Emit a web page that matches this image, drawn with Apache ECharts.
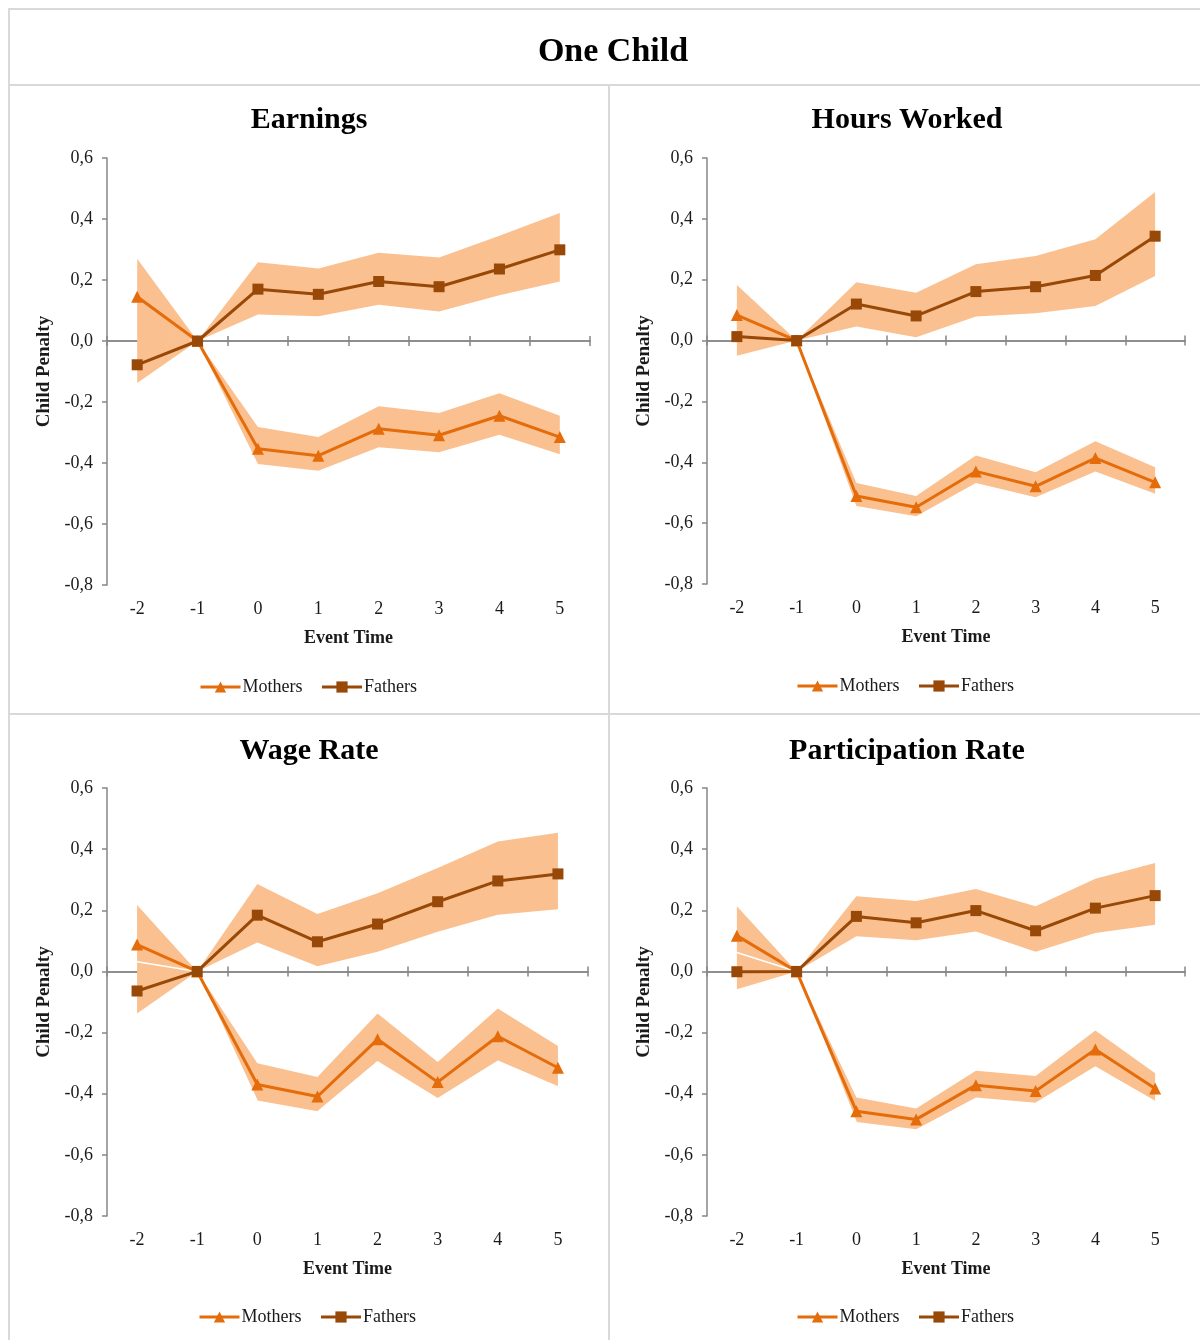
<!DOCTYPE html>
<html>
<head>
<meta charset="utf-8">
<title>One Child</title>
<script src="https://cdn.jsdelivr.net/npm/echarts@6/dist/echarts.min.js"></script>
<style>
  html, body { margin: 0; padding: 0; background: #ffffff; }
  #chart { width: 1200px; height: 1340px; }
</style>
</head>
<body>
<div id="chart"></div>
<script>
// Event time relative to the birth of the first child
const eventTime = ['-2', '-1', '0', '1', '2', '3', '4', '5'];

// Earnings
const earnMothers   = [0.145, 0, -0.353, -0.376, -0.288, -0.309, -0.245, -0.315];
const earnMothersLo = [0.037, 0, -0.403, -0.425, -0.348, -0.365, -0.307, -0.371];
const earnMothersHi = [0.270, 0, -0.282, -0.315, -0.214, -0.236, -0.171, -0.245];
const earnFathers   = [-0.078, 0, 0.170, 0.153, 0.195, 0.178, 0.236, 0.299];
const earnFathersLo = [-0.138, 0, 0.087, 0.081, 0.119, 0.097, 0.150, 0.195];
const earnFathersHi = [0.040, 0, 0.258, 0.238, 0.289, 0.274, 0.345, 0.420];

// Hours worked
const hoursMothers   = [0.084, 0, -0.511, -0.548, -0.430, -0.479, -0.386, -0.466];
const hoursMothersLo = [-0.010, 0, -0.544, -0.577, -0.468, -0.515, -0.430, -0.503];
const hoursMothersHi = [0.183, 0, -0.468, -0.511, -0.378, -0.433, -0.331, -0.416];
const hoursFathers   = [0.013, 0, 0.120, 0.081, 0.161, 0.177, 0.214, 0.343];
const hoursFathersLo = [-0.050, 0, 0.046, 0.011, 0.079, 0.090, 0.114, 0.212];
const hoursFathersHi = [0.070, 0, 0.192, 0.157, 0.251, 0.278, 0.333, 0.488];

// Wage rate
const wageMothers   = [0.088, 0, -0.370, -0.409, -0.222, -0.362, -0.212, -0.315];
const wageMothersLo = [0.032, 0, -0.425, -0.460, -0.296, -0.417, -0.294, -0.378];
const wageMothersHi = [0.217, 0, -0.300, -0.345, -0.138, -0.296, -0.121, -0.244];
const wageFathers   = [-0.064, 0, 0.184, 0.097, 0.155, 0.228, 0.296, 0.319];
const wageFathersLo = [-0.138, 0, 0.095, 0.017, 0.064, 0.130, 0.185, 0.203];
const wageFathersHi = [0.032, 0, 0.286, 0.188, 0.256, 0.338, 0.425, 0.454];

// Participation rate
const partMothers   = [0.117, 0, -0.457, -0.484, -0.372, -0.391, -0.255, -0.383];
const partMothersLo = [0.062, 0, -0.495, -0.519, -0.415, -0.432, -0.313, -0.426];
const partMothersHi = [0.213, 0, -0.412, -0.448, -0.325, -0.342, -0.193, -0.333];
const partFathers   = [-0.001, 0, 0.180, 0.159, 0.199, 0.133, 0.207, 0.248];
const partFathersLo = [-0.058, 0, 0.115, 0.102, 0.131, 0.064, 0.126, 0.153];
const partFathersHi = [0.062, 0, 0.246, 0.230, 0.270, 0.213, 0.303, 0.355];

// Y axis ticks
const yMin = -0.8, yMax = 0.6, yStep = 0.2;

const FONT = "'Liberation Serif', 'Times New Roman', serif";
const MOTHER_COLOR = '#E46C0A';
const FATHER_COLOR = '#984807';
const BAND_COLOR = '#FAC090';
const AXIS_COLOR = '#868686';
const TEXT_COLOR = '#1a1a1a';
const BORDER_COLOR = '#d9d9d9';

const panels = [
  { title: 'Earnings', cx: 309, ty: 120,
    grid: { left: 107, top: 158, width: 483, height: 427 }, legend: { left: 199, top: 678 },
    m: earnMothers, mLo: earnMothersLo, mHi: earnMothersHi,
    f: earnFathers, fLo: earnFathersLo, fHi: earnFathersHi, edge: false },
  { title: 'Hours Worked', cx: 907, ty: 120,
    grid: { left: 707, top: 158, width: 478, height: 426 }, legend: { left: 796, top: 677 },
    m: hoursMothers, mLo: hoursMothersLo, mHi: hoursMothersHi,
    f: hoursFathers, fLo: hoursFathersLo, fHi: hoursFathersHi, edge: false },
  { title: 'Wage Rate', cx: 309, ty: 751,
    grid: { left: 107, top: 788, width: 481, height: 428 }, legend: { left: 198, top: 1308 },
    m: wageMothers, mLo: wageMothersLo, mHi: wageMothersHi,
    f: wageFathers, fLo: wageFathersLo, fHi: wageFathersHi, edge: true },
  { title: 'Participation Rate', cx: 907, ty: 751,
    grid: { left: 707, top: 788, width: 478, height: 428 }, legend: { left: 796, top: 1308 },
    m: partMothers, mLo: partMothersLo, mHi: partMothersHi,
    f: partFathers, fLo: partFathersLo, fHi: partFathersHi, edge: true }
];

const diff = (hi, lo) => hi.map((v, k) => v - lo[k]);
const fmt = v => (Math.abs(v) < 1e-9 ? '0,0' : v.toFixed(1).replace('.', ','));

const grids = [], xAxes = [], yAxes = [], series = [], legends = [], graphics = [];

panels.forEach((p, i) => {
  grids.push(Object.assign({ containLabel: false }, p.grid));
  const xi = 3 * i, yi = 2 * i;

  // category labels at the bottom of the plot
  xAxes.push({
    type: 'category', gridIndex: i, data: eventTime, position: 'bottom',
    axisLine: { show: false, onZero: false }, axisTick: { show: false },
    axisLabel: { margin: 15, fontSize: 18, fontFamily: FONT, color: TEXT_COLOR },
    name: 'Event Time', nameLocation: 'middle', nameGap: 44,
    nameTextStyle: { fontSize: 18, fontWeight: 'bold', fontFamily: FONT, color: TEXT_COLOR }
  });
  // zero line with ticks below it
  xAxes.push({
    type: 'category', gridIndex: i, data: eventTime, position: 'bottom',
    axisLine: { show: true, onZero: true, onZeroAxisIndex: yi, lineStyle: { color: AXIS_COLOR, width: 1.5 } },
    axisTick: { show: true, inside: false, length: 5, lineStyle: { color: AXIS_COLOR, width: 1.5 } },
    axisLabel: { show: false }
  });
  // ticks above the zero line
  xAxes.push({
    type: 'category', gridIndex: i, data: eventTime, position: 'bottom',
    axisLine: { show: true, onZero: true, onZeroAxisIndex: yi + 1, lineStyle: { color: AXIS_COLOR, width: 1.5 } },
    axisTick: { show: true, inside: true, length: 5, lineStyle: { color: AXIS_COLOR, width: 1.5 } },
    axisLabel: { show: false }
  });

  yAxes.push({
    type: 'value', gridIndex: i, min: yMin, max: yMax, interval: yStep,
    axisLine: { show: true, lineStyle: { color: AXIS_COLOR, width: 1.5 } },
    axisTick: { show: true, length: 5, lineStyle: { color: AXIS_COLOR, width: 1.5 } },
    splitLine: { show: false },
    axisLabel: { formatter: fmt, margin: 14, fontSize: 18, fontFamily: FONT, color: TEXT_COLOR },
    name: 'Child Penalty', nameLocation: 'middle', nameRotate: 90, nameGap: 53,
    nameTextStyle: { fontSize: 19, fontWeight: 'bold', fontFamily: FONT, color: TEXT_COLOR }
  });
  yAxes.push({ type: 'value', gridIndex: i, min: yMin, max: yMax, interval: yStep, show: false });

  const common = { type: 'line', xAxisIndex: xi, yAxisIndex: yi, animation: false, silent: true };

  // confidence bands: invisible lower bound + stacked width
  series.push(Object.assign({}, common, {
    name: 'Mothers lower', data: p.mLo, stack: 'm' + i, stackStrategy: 'all', symbol: 'none',
    lineStyle: { width: p.edge ? 1.5 : 0, color: '#ffffff' }, z: p.edge ? 4 : 2
  }));
  series.push(Object.assign({}, common, {
    name: 'Mothers band', data: diff(p.mHi, p.mLo), stack: 'm' + i, stackStrategy: 'all', symbol: 'none',
    lineStyle: { width: 0 }, areaStyle: { color: BAND_COLOR, opacity: 1 }, z: 2
  }));
  series.push(Object.assign({}, common, {
    name: 'Fathers lower', data: p.fLo, stack: 'f' + i, stackStrategy: 'all', symbol: 'none',
    lineStyle: { width: 0 }, z: 2
  }));
  series.push(Object.assign({}, common, {
    name: 'Fathers band', data: diff(p.fHi, p.fLo), stack: 'f' + i, stackStrategy: 'all', symbol: 'none',
    lineStyle: { width: 0 }, areaStyle: { color: BAND_COLOR, opacity: 1 }, z: 3
  }));

  // point estimates
  series.push(Object.assign({}, common, {
    name: 'Mothers', data: p.m, symbol: 'triangle', symbolSize: 12,
    itemStyle: { color: MOTHER_COLOR }, lineStyle: { color: MOTHER_COLOR, width: 3 }, z: 5
  }));
  series.push(Object.assign({}, common, {
    name: 'Fathers', data: p.f, symbol: 'rect', symbolSize: 11,
    itemStyle: { color: FATHER_COLOR }, lineStyle: { color: FATHER_COLOR, width: 3 }, z: 6
  }));

  legends.push({
    data: ['Mothers', 'Fathers'], left: p.legend.left, top: p.legend.top, orient: 'horizontal',
    padding: 0, itemWidth: 40, itemHeight: 14, itemGap: 18, selectedMode: false,
    lineStyle: { width: 3 },
    textStyle: { fontSize: 18, fontFamily: FONT, color: TEXT_COLOR, padding: [0, 0, 0, -3] }
  });

  graphics.push({
    type: 'text', x: p.cx, y: p.ty,
    style: { text: p.title, align: 'center', verticalAlign: 'middle',
             font: 'bold 30px ' + FONT, fill: '#000000' }
  });
});

// frame lines around the title and the four panels
const line = (x1, y1, x2, y2) => ({
  type: 'line', shape: { x1, y1, x2, y2 }, style: { stroke: BORDER_COLOR, lineWidth: 2 }, silent: true
});
graphics.push(line(8, 9, 1200, 9));
graphics.push(line(9, 9, 9, 1340));
graphics.push(line(8, 85, 1200, 85));
graphics.push(line(609, 85, 609, 1340));
graphics.push(line(8, 714, 1200, 714));
graphics.push({
  type: 'text', x: 613, y: 52,
  style: { text: 'One Child', align: 'center', verticalAlign: 'middle',
           font: 'bold 34px ' + FONT, fill: '#000000' }
});

const chart = echarts.init(document.getElementById('chart'), null, { renderer: 'canvas' });
chart.setOption({
  backgroundColor: '#ffffff',
  animation: false,
  grid: grids,
  xAxis: xAxes,
  yAxis: yAxes,
  legend: legends,
  series: series,
  graphic: graphics
});
</script>
</body>
</html>
